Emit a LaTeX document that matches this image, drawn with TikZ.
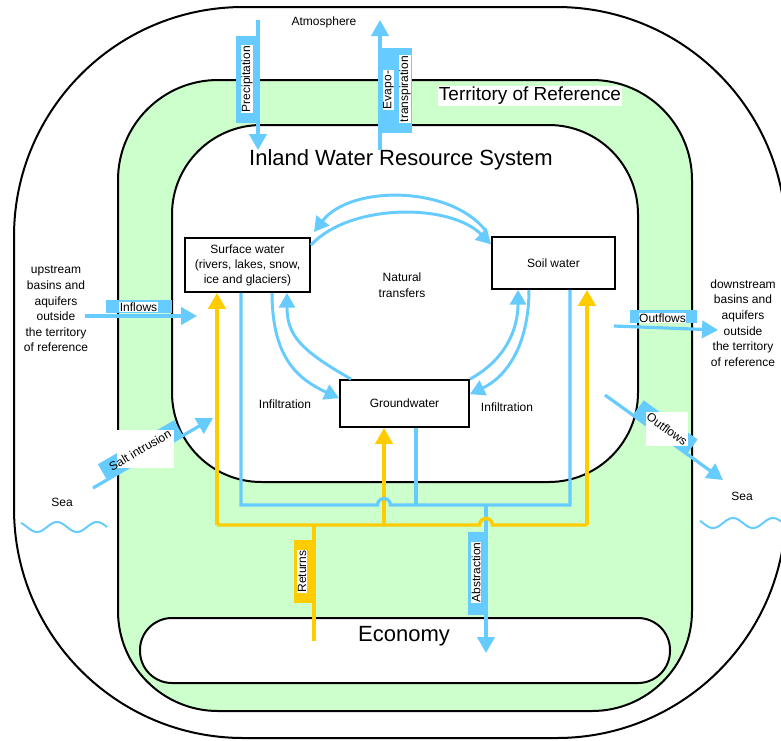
\documentclass[tikz,border=0pt]{standalone}
\usepackage{fontspec}
\setmainfont{Liberation Sans}
\usetikzlibrary{arrows.meta}
\definecolor{sky}{HTML}{66CCFF}
\definecolor{gold}{HTML}{FFCC00}
\definecolor{mint}{HTML}{CCFFCC}

\begin{document}
\begin{tikzpicture}[x=0.75pt,y=-0.75pt,
  outline/.style={draw=black,line width=1.5pt},
  store/.style={draw=black,line width=1.4pt,fill=white,align=center,
    font=\fontsize{9}{11.3}\selectfont,inner sep=0pt},
  lbl/.style={font=\fontsize{9}{11.7}\selectfont,align=center,inner sep=0pt},
  tag/.style={fill=white,inner sep=0.4pt,font=\fontsize{9}{10}\selectfont},
  bigtitle/.style={font=\fontsize{16.5}{18}\selectfont,inner sep=1pt},
  tip/.style={-{Triangle[length=12pt,width=13pt]}},
  skyline/.style={draw=sky,line width=2.4pt},
  goldline/.style={draw=gold,line width=2.6pt},
  cycle/.style={draw=sky,line width=2.2pt,-{Triangle[length=11pt,width=12pt]}},
]
\useasboundingbox (0,0) rectangle (781,740);

% nested regions: outside world, territory, inland water system
\draw[outline,fill=white,rounded corners=172pt] (14,7) rectangle (786,738);
\draw[outline,fill=mint,rounded corners=75pt] (118,80) rectangle (692,711);
\draw[outline,fill=white,rounded corners=67pt] (172,125) rectangle (638,482);
\node[outline,fill=white,rounded corners=24pt,minimum width=397.5pt,
  minimum height=48.75pt,inner sep=0pt] (economy) at (405,650.5) {};
\node[bigtitle] (econtext) at (404,636) {Economy};

\node[bigtitle] (system) at (401,160) {Inland Water Resource System};
\node[fill=white,inner sep=1pt,font=\fontsize{14.2}{16}\selectfont]
  (territory) at (530,96) {Territory of Reference};

% water stores
\node[store,minimum width=93.75pt,minimum height=40.5pt] (surface) at (247.5,265)
  {Surface water\\(rivers, lakes, snow,\\ice and glaciers)};
\node[store,minimum width=92.25pt,minimum height=39pt] (soil) at (553.5,263) {Soil water};
\node[store,minimum width=96.75pt,minimum height=35.25pt] (ground) at (404.5,403.5) {Groundwater};

\node[lbl,font=\fontsize{9}{12}\selectfont] (natural) at (402,285) {Natural\\transfers};
\node[lbl] (infl) at (285,404) {Infiltration};
\node[lbl] (infr) at (507,407) {Infiltration};

% natural transfers between the stores
\draw[cycle] ([xshift=-4pt,yshift=4pt]soil.north west) .. controls (450,185) and (350,185) .. (314,232);
\draw[cycle] ([yshift=15pt]surface.east) .. controls (350,203) and (450,203) .. ([yshift=14pt]soil.west);
\draw[cycle] ([xshift=18.4pt]surface.south) .. controls (272,360) and (300,380) .. ([yshift=4pt]ground.west);
\draw[cycle] ([xshift=9pt]ground.north west) .. controls (300,350) and (287,335) .. ([xshift=29.6pt]surface.south);
\draw[cycle] (ground.north east) .. controls (505,360) and (518,330) .. ([xshift=-26.6pt]soil.south);
\draw[cycle] ([xshift=-18.4pt]soil.south) .. controls (529,340) and (510,375) .. ([yshift=7pt]ground.east);

% abstraction and return pipes
\coordinate (bL) at (241,505);
\coordinate (bM) at (416,505);
\coordinate (bR) at (570,505);
\coordinate (bA) at (486,505);
\coordinate (bEnd) at (486,653);
\coordinate (yL) at (217,525);
\coordinate (yM) at (384,525);
\coordinate (yR) at (587,525);
\coordinate (yB) at (314,525);
\coordinate (yEnd) at (314,641);

\draw[skyline,tip] (bA) -- (bEnd);
\draw[goldline,tip] (yL) -- (surface.south -| yL);
\draw[goldline,tip] (yM) -- (ground.south -| yM);
\draw[goldline,tip] (yR) -- (soil.south -| yR);
\draw[goldline] (yEnd) -- (yB);
\draw[goldline] (yL) -- (479.5,525) arc[start angle=180,end angle=360,radius=6.5] -- (yR);
\draw[skyline] (surface.south -| bL) -- (bL) -- (377.5,505)
  arc[start angle=180,end angle=360,radius=6.5] -- (bR) -- (soil.south -| bR);
\draw[skyline] (ground.south -| bM) -- (bM);

\fill[gold] (294,540) rectangle (314,603);
\node[tag,rotate=90] (returns) at (302,571.5) {Returns};
\fill[sky] (468,532) rectangle (487,615);
\node[tag,rotate=90] (abstraction) at (476,572.5) {Abstraction};

% exchanges with the atmosphere
\coordinate (pTop) at (258,20);
\coordinate (pEnd) at (258,150);
\coordinate (eBot) at (380,150);
\coordinate (eTop) at (380,20);
\node[lbl] (atmos) at (324,22) {Atmosphere};
\draw[skyline,tip] (pTop) -- (pEnd);
\fill[sky] (236,36) rectangle (260,123);
\node[tag,rotate=90] (precip) at (247,79) {Precipitation};
\draw[skyline,tip] (eBot) -- (eTop);
\fill[sky] (382,48) rectangle (412,133);
\node[tag,rotate=90] (evapo) at (388.5,90) {Evapo-};
\node[tag,rotate=90] (transp) at (405,89) {transpiration};

% exchanges with neighbouring basins
\node[lbl] (upstream) at (56,309) {upstream\\basins and\\aquifers\\outside\\the territory\\of reference};
\node[lbl] (downstream) at (743,323) {downstream\\basins and\\aquifers\\outside\\the territory\\of reference};
\coordinate (inStart) at (85,316);
\coordinate (inEnd) at (197,316);
\draw[skyline,tip] (inStart) -- (inEnd);
\fill[sky] (106,300) rectangle (172,313);
\node[tag] (inflows) at (138.5,307) {Inflows};
\coordinate (outStart) at (614,326);
\coordinate (outEnd) at (718,330);
\draw[skyline,tip] (outStart) -- (outEnd);
\fill[sky] (630,310) rectangle (697,323);
\node[tag] (outflows) at (662.5,318) {Outflows};

% exchanges with the sea
\node[lbl] (seaL) at (62,502) {Sea};
\node[lbl] (seaR) at (742,496) {Sea};
\draw[sky,line width=1.5pt] plot[domain=21:107,samples=60,smooth] (\x,{527+5*sin(9*(\x-27))});
\draw[sky,line width=1.5pt] plot[domain=700:781,samples=60,smooth] (\x,{523+5*sin(9*(\x-703))});

\coordinate (saltStart) at (93,488);
\coordinate (saltEnd) at (213,418);
\draw[skyline,tip] (saltStart) -- (saltEnd);
\fill[sky,rotate around={30:(140.5,450)}] (96.5,441) rectangle (184.5,459);
\fill[white] (117,430) rectangle (174,468);
\node[rotate=30,inner sep=0pt,font=\fontsize{9}{10}\selectfont] (salt) at (140,450) {Salt intrusion};

\coordinate (seaOutStart) at (605,395);
\coordinate (seaOutEnd) at (723,480);
\draw[skyline,tip] (seaOutStart) -- (seaOutEnd);
\fill[sky,rotate around={-36:(665.3,427.2)}] (632,418.2) rectangle (698.6,436.2);
\fill[white] (646,412) rectangle (688,446);
\node[rotate=-36,inner sep=0pt,font=\fontsize{9}{10}\selectfont] (seaout) at (667,429) {Outflows};
\end{tikzpicture}
\end{document}
